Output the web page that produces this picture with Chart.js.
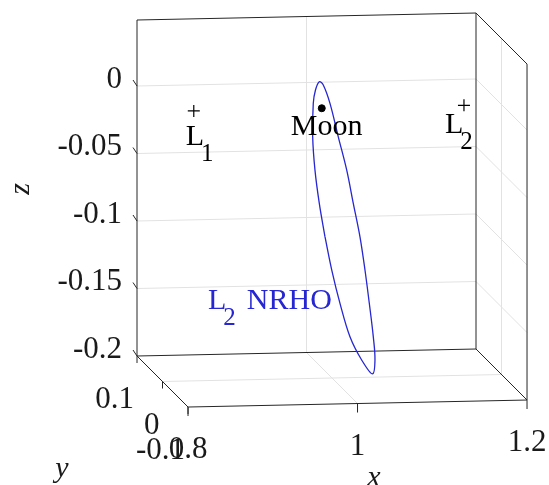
<!DOCTYPE html>
<html>
<head>
<meta charset="utf-8">
<script src="https://cdn.jsdelivr.net/npm/chart.js@4.4.1/dist/chart.umd.min.js"></script>
<style>
  html, body { margin: 0; background: #fff; }
  #wrap { width: 549px; height: 485px; position: relative; }
</style>
</head>
<body>
<div id="wrap"><canvas id="grafico"></canvas></div>
<script>
// axis limits and ticks
const xLim = [0.8, 1.2];
const yLim = [-0.1, 0.1];
const zLim = [-0.2, 0.0489];
const xTicks = [0.8, 1, 1.2];
const xTickLabels = ["0.8", "1", "1.2"];
const yTicks = [0.1, 0, -0.1];
const yTickLabels = ["0.1", "0", "-0.1"];
const zTicks = [0, -0.05, -0.1, -0.15, -0.2];
const zTickLabels = ["0", "-0.05", "-0.1", "-0.15", "-0.2"];

// NRHO outline as seen, in the y = 0 plane
const orbitX = [0.9917, 0.9997, 1.0094, 1.0212, 1.0350, 1.0478, 1.0507, 1.0487, 1.0440, 1.0389, 1.0330, 1.0251,
                1.0173, 1.0074, 0.9976, 0.9897, 0.9850, 0.9805, 0.9779, 0.9772, 0.9799, 0.9850, 0.9917];
const orbitZ = [-0.0952, -0.1200, -0.1448, -0.1697, -0.1871, -0.1976, -0.1873, -0.1700, -0.1452, -0.1205, -0.0958, -0.0709,
                -0.0461, -0.0214, 0.0035, 0.0172, 0.0197, 0.0136, 0.0038, -0.0210, -0.0457, -0.0704, -0.0952];

// Moon and libration points (x, y = 0, z = 0)
const pointNames = ["Moon", "L1", "L2"];
const pointX = [0.9879, 0.8369, 1.1557];

// view of the 3D box: how far the y axis shifts things, and a small roll
const view = { dx: 0.0602, dz: 0.0378, roll: 0.01296 };

function toChart(x, y, z) {
  const t = (yLim[1] - y) / (yLim[1] - yLim[0]);
  return { x: x + t * view.dx, y: z + (x - xLim[0]) * view.roll - t * view.dz };
}

const serif = '"Liberation Serif", "Times New Roman", serif';
const azul = "#2626d2";

const caixa3d = {
  id: "caixa3d",
  beforeDatasetsDraw(chart) {
    const ctx = chart.ctx;
    const P = (x, y, z) => {
      const c = toChart(x, y, z);
      return [chart.scales.x.getPixelForValue(c.x), chart.scales.y.getPixelForValue(c.y)];
    };
    const seg = (a, b) => { ctx.beginPath(); ctx.moveTo(a[0], a[1]); ctx.lineTo(b[0], b[1]); ctx.stroke(); };
    const [x0, x1] = xLim, [y0, y1] = yLim, [z0, z1] = zLim;

    ctx.save();
    ctx.lineWidth = 1;
    ctx.strokeStyle = "#e2e2e2";
    // grid on back wall, right wall and floor
    zTicks.filter(z => z > z0).forEach(z => {
      seg(P(x0, y1, z), P(x1, y1, z));
      seg(P(x1, y1, z), P(x1, y0, z));
    });
    xTicks.filter(x => x > x0 && x < x1).forEach(x => {
      seg(P(x, y1, z0), P(x, y1, z1));
      seg(P(x, y1, z0), P(x, y0, z0));
    });
    yTicks.filter(y => y > y0 && y < y1).forEach(y => {
      seg(P(x0, y, z0), P(x1, y, z0));
      seg(P(x1, y, z0), P(x1, y, z1));
    });

    // box edges
    ctx.strokeStyle = "#262626";
    seg(P(x0, y1, z0), P(x0, y1, z1));
    seg(P(x0, y1, z1), P(x1, y1, z1));
    seg(P(x1, y1, z1), P(x1, y1, z0));
    seg(P(x1, y1, z0), P(x0, y1, z0));
    seg(P(x1, y1, z1), P(x1, y0, z1));
    seg(P(x1, y0, z1), P(x1, y0, z0));
    seg(P(x1, y1, z0), P(x1, y0, z0));
    seg(P(x0, y1, z0), P(x0, y0, z0));
    seg(P(x0, y0, z0), P(x1, y0, z0));

    // tick marks
    zTicks.forEach(z => { const p = P(x0, y1, z); seg(p, [p[0] - 4, p[1] - 6]); });
    xTicks.forEach(x => { const p = P(x, y0, z0); seg(p, [p[0], p[1] + 9]); });
    yTicks.forEach(y => { const p = P(x0, y, z0); seg(p, [p[0], p[1] + 7]); });

    // tick labels
    ctx.fillStyle = "#1a1a1a";
    ctx.font = "31px " + serif;
    ctx.textBaseline = "alphabetic";
    ctx.textAlign = "right";
    zTicks.forEach((z, i) => { const p = P(x0, y1, z); ctx.fillText(zTickLabels[i], p[0] - 15, p[1] + 1.5); });
    yTicks.forEach((y, i) => { const p = P(x0, y, z0); ctx.fillText(yTickLabels[i], p[0] - 3, p[1] + 52); });
    ctx.textAlign = "center";
    xTicks.forEach((x, i) => { const p = P(x, y0, z0); ctx.fillText(xTickLabels[i], p[0], p[1] + 51); });

    // axis names
    ctx.font = "italic 30px " + serif;
    ctx.fillText("x", 374, 486);
    ctx.fillText("y", 62, 477);
    ctx.save();
    ctx.translate(29, 189);
    ctx.rotate(-Math.PI / 2);
    ctx.fillText("z", 0, 0);
    ctx.restore();
    ctx.restore();
  },
  afterDatasetsDraw(chart) {
    const ctx = chart.ctx;
    const P = (x, y, z) => {
      const c = toChart(x, y, z);
      return [chart.scales.x.getPixelForValue(c.x), chart.scales.y.getPixelForValue(c.y)];
    };
    const comIndice = (base, sub, x, y) => {
      ctx.font = "30px " + serif;
      ctx.textAlign = "left";
      ctx.fillText(base, x, y);
      const w = ctx.measureText(base).width;
      ctx.font = "25px " + serif;
      ctx.fillText(sub, x + w - 3, y + 16);
      return x + w - 3 + ctx.measureText(sub).width;
    };
    ctx.save();
    ctx.fillStyle = "#000";
    ctx.textBaseline = "alphabetic";

    const lua = P(pointX[0], 0, 0);
    ctx.font = "30px " + serif;
    ctx.textAlign = "left";
    ctx.fillText(pointNames[0], lua[0] - 31, lua[1] + 27);

    const l1 = P(pointX[1], 0, 0);
    comIndice("L", "1", l1[0] - 8, l1[1] + 34);
    const l2 = P(pointX[2], 0, 0);
    comIndice("L", "2", l2[0] - 19, l2[1] + 28);

    ctx.fillStyle = azul;
    const nr = P(0.8537, 0, -0.147);
    const fim = comIndice("L", "2", nr[0], nr[1]);
    ctx.font = "30px " + serif;
    ctx.fillText("NRHO", fim + 11, nr[1]);
    ctx.restore();
  }
};

const orbita = orbitX.map((x, i) => toChart(x, 0, orbitZ[i]));

new Chart(document.getElementById("grafico"), {
  type: "scatter",
  data: {
    datasets: [
      {
        label: "L2 NRHO",
        data: orbita,
        showLine: true,
        borderColor: azul,
        borderWidth: 1.3,
        pointRadius: 0,
        tension: 0.35,
        fill: false,
        clip: false,
      },
      {
        label: pointNames[0],
        data: [toChart(pointX[0], 0, 0)],
        pointRadius: 3.5,
        backgroundColor: "#000",
        borderColor: "#000",
        clip: false,
      },
      {
        label: "Libration points",
        data: [toChart(pointX[1], 0, 0), toChart(pointX[2], 0, 0)],
        pointStyle: "cross",
        pointRadius: 6,
        borderColor: "#000",
        borderWidth: 1.2,
        clip: false,
      },
    ],
  },
  options: {
    responsive: true,
    maintainAspectRatio: false,
    animation: false,
    events: [],
    layout: { padding: { left: 137, right: 73, top: 20, bottom: 129 } },
    plugins: { legend: { display: false }, tooltip: { enabled: false } },
    scales: {
      x: { type: "linear", min: xLim[0], max: xLim[1], display: false },
      y: { type: "linear", min: zLim[0], max: zLim[1], display: false },
    },
  },
  plugins: [caixa3d],
});
</script>
</body>
</html>
